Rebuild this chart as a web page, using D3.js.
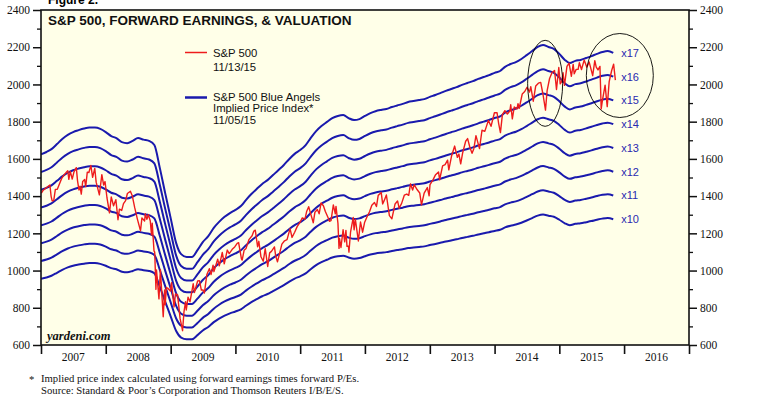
<!DOCTYPE html>
<html>
<head>
<meta charset="utf-8">
<script src="https://cdn.jsdelivr.net/npm/d3@7"></script>
<style>
  body { margin: 0; background: #fff; }
  svg { display: block; }
</style>
</head>
<body>
<svg id="chart"></svg>
<script>
/* data */
// S&P 500 closes
const spx = [
  ["2007-01-03",1416],["2007-01-12",1430],["2007-01-24",1440],["2007-02-07",1450],["2007-02-20",1460],["2007-02-27",1399],
  ["2007-03-05",1374],["2007-03-14",1377],["2007-03-23",1436],["2007-04-03",1437],["2007-04-16",1468],["2007-04-27",1494],
  ["2007-05-09",1512],["2007-05-21",1525],["2007-06-01",1536],["2007-06-07",1490],["2007-06-15",1533],["2007-06-26",1492],
  ["2007-07-06",1530],["2007-07-19",1553],["2007-07-26",1482],["2007-08-03",1433],["2007-08-09",1453],["2007-08-16",1411],
  ["2007-08-24",1479],["2007-09-04",1489],["2007-09-10",1451],["2007-09-19",1529],["2007-09-28",1527],["2007-10-09",1565],
  ["2007-10-19",1501],["2007-10-31",1549],["2007-11-08",1475],["2007-11-26",1407],["2007-12-10",1515],["2007-12-20",1460],
  ["2007-12-28",1478],
  ["2008-01-08",1390],["2008-01-22",1310],["2008-02-01",1395],["2008-02-14",1348],["2008-02-27",1381],["2008-03-10",1273],
  ["2008-03-18",1330],["2008-03-31",1323],["2008-04-10",1360],["2008-04-22",1376],["2008-05-02",1414],["2008-05-19",1426],
  ["2008-05-30",1400],["2008-06-12",1339],["2008-06-27",1278],["2008-07-15",1214],["2008-07-23",1283],["2008-08-07",1266],
  ["2008-08-11",1305],["2008-08-20",1276],["2008-08-28",1300],["2008-09-08",1267],["2008-09-15",1192],["2008-09-19",1255],
  ["2008-09-29",1106],["2008-10-03",1099],["2008-10-10",899],["2008-10-13",1003],["2008-10-27",848],["2008-11-04",1005],
  ["2008-11-20",752],["2008-11-28",896],["2008-12-01",816],["2008-12-08",909],["2008-12-17",904],["2008-12-30",890],
  ["2009-01-06",935],["2009-01-20",805],["2009-01-28",874],["2009-02-09",869],["2009-02-23",743],["2009-03-09",677],
  ["2009-03-17",778],["2009-03-26",833],["2009-03-30",788],["2009-04-09",857],["2009-04-20",832],["2009-05-08",929],
  ["2009-05-15",882],["2009-06-02",944],["2009-06-12",946],["2009-06-23",895],["2009-07-02",896],["2009-07-10",879],
  ["2009-07-24",979],["2009-08-07",1010],["2009-08-17",979],["2009-08-28",1029],["2009-09-02",994],["2009-09-23",1061],
  ["2009-10-02",1025],["2009-10-19",1097],["2009-10-30",1036],["2009-11-16",1110],["2009-11-27",1091],["2009-12-14",1114],
  ["2009-12-28",1127],
  ["2010-01-11",1146],["2010-01-19",1150],["2010-02-04",1063],["2010-02-08",1056],["2010-02-19",1109],["2010-03-02",1119],
  ["2010-03-18",1166],["2010-04-05",1187],["2010-04-15",1212],["2010-04-23",1217],["2010-05-06",1128],["2010-05-13",1157],
  ["2010-05-25",1074],["2010-06-07",1050],["2010-06-18",1118],["2010-07-02",1022],["2010-07-13",1095],["2010-07-23",1103],
  ["2010-08-09",1127],["2010-08-16",1079],["2010-08-26",1047],["2010-09-07",1092],["2010-09-20",1142],["2010-10-05",1160],
  ["2010-10-19",1166],["2010-11-05",1225],["2010-11-16",1178],["2010-12-01",1206],["2010-12-15",1236],["2010-12-30",1257],
  ["2011-01-13",1283],["2011-01-28",1276],["2011-02-07",1319],["2011-02-18",1343],["2011-03-01",1306],["2011-03-16",1257],
  ["2011-03-25",1313],["2011-04-08",1328],["2011-04-18",1305],["2011-04-29",1363],["2011-05-12",1348],["2011-05-23",1317],
  ["2011-06-07",1285],["2011-06-15",1265],["2011-06-24",1268],["2011-07-07",1353],["2011-07-18",1305],["2011-07-22",1345],
  ["2011-08-02",1254],["2011-08-08",1119],["2011-08-11",1172],["2011-08-19",1124],["2011-08-31",1219],["2011-09-09",1154],
  ["2011-09-16",1216],["2011-09-22",1130],["2011-09-30",1131],["2011-10-03",1099],["2011-10-12",1207],["2011-10-27",1285],
  ["2011-11-01",1219],["2011-11-08",1276],["2011-11-25",1159],["2011-12-07",1261],["2011-12-19",1206],["2011-12-30",1258],
  ["2012-01-13",1289],["2012-01-27",1316],["2012-02-09",1351],["2012-02-24",1366],["2012-03-06",1344],["2012-03-16",1404],
  ["2012-04-02",1419],["2012-04-10",1358],["2012-04-19",1377],["2012-05-01",1406],["2012-05-18",1295],["2012-06-01",1278],
  ["2012-06-19",1358],["2012-07-03",1374],["2012-07-12",1335],["2012-07-26",1361],["2012-08-10",1405],["2012-08-24",1411],
  ["2012-09-04",1404],["2012-09-14",1466],["2012-09-26",1433],["2012-10-05",1461],["2012-10-22",1434],["2012-11-05",1417],
  ["2012-11-15",1353],["2012-11-30",1416],["2012-12-18",1446],["2012-12-28",1402],
  ["2013-01-02",1462],["2013-01-18",1486],["2013-02-01",1513],["2013-02-19",1530],["2013-02-25",1488],["2013-03-14",1563],
  ["2013-03-28",1569],["2013-04-11",1593],["2013-04-18",1541],["2013-05-03",1614],["2013-05-21",1669],["2013-06-05",1608],
  ["2013-06-14",1626],["2013-06-24",1573],["2013-07-05",1632],["2013-07-22",1695],["2013-08-02",1709],["2013-08-15",1661],
  ["2013-08-27",1630],["2013-09-06",1655],["2013-09-18",1725],["2013-10-08",1655],["2013-10-22",1754],["2013-11-07",1748],
  ["2013-11-27",1807],["2013-12-12",1775],["2013-12-31",1848],
  ["2014-01-15",1848],["2014-01-24",1790],["2014-02-03",1741],["2014-02-14",1838],["2014-02-28",1859],["2014-03-14",1841],
  ["2014-03-28",1857],["2014-04-02",1891],["2014-04-11",1815],["2014-04-22",1879],["2014-05-07",1868],["2014-05-13",1897],
  ["2014-05-20",1872],["2014-06-06",1949],["2014-06-20",1962],["2014-07-03",1985],["2014-07-17",1959],["2014-07-24",1988],
  ["2014-08-07",1910],["2014-08-21",1992],["2014-09-05",2007],["2014-09-18",2011],["2014-10-01",1946],["2014-10-15",1862],
  ["2014-10-24",1965],["2014-11-07",2032],["2014-11-21",2064],["2014-12-05",2075],["2014-12-16",1973],["2014-12-29",2091],
  ["2015-01-06",2003],["2015-01-16",2019],["2015-01-22",2063],["2015-01-30",1995],["2015-02-13",2097],["2015-02-25",2114],
  ["2015-03-10",2044],["2015-03-20",2108],["2015-03-26",2057],["2015-04-06",2081],["2015-04-17",2081],["2015-04-24",2117],
  ["2015-05-06",2080],["2015-05-21",2131],["2015-06-05",2092],["2015-06-18",2121],["2015-07-08",2047],["2015-07-20",2128],
  ["2015-07-28",2093],["2015-08-07",2078],["2015-08-18",2097],["2015-08-25",1868],["2015-09-01",1914],["2015-09-16",1996],
  ["2015-09-28",1881],["2015-10-09",2015],["2015-10-23",2075],["2015-11-03",2109],["2015-11-13",2023]
];

// forward earnings, monthly from Jan 2007 to Nov 2015
const fwdStart = "2007-01-01";
const fwdEarnings = [
  95.6, 96.3, 97.2, 98.8, 100.4, 101.7, 102.6, 103.2, 103.7, 104.0, 104.0, 103.6,
  102.6, 101.3, 100.7, 99.4, 99.1, 99.8, 100.7, 100.2, 99.8, 98.5, 91.2, 83.3,
  75.4, 67.5, 64.0, 63.1, 63.1, 65.3, 67.8, 69.7, 72.3, 74.2, 75.8, 77.0,
  78.0, 79.2, 81.1, 83.0, 84.6, 86.2, 87.4, 89.0, 90.6, 92.2, 94.1, 95.7,
  96.9, 98.5, 100.7, 102.9, 104.5, 105.8, 107.0, 107.7, 108.0, 107.0, 106.4, 106.7,
  107.7, 108.6, 109.2, 109.6, 109.9, 110.5, 111.0, 111.5, 112.1, 112.4, 112.7, 113.0,
  113.7, 114.3, 114.9, 115.6, 116.2, 116.8, 117.5, 118.1, 118.7, 119.4, 120.0, 120.6,
  121.3, 121.9, 123.2, 124.1, 124.7, 125.7, 126.9, 128.2, 129.5, 130.1, 129.5, 128.9,
  127.3, 125.4, 124.4, 125.1, 125.4, 126.0, 126.6, 127.3, 127.9, 128.2, 127.6
];

// forward P/E multiples for the blue angels
const multiples = [10, 11, 12, 13, 14, 15, 16, 17];

const years = [2007, 2008, 2009, 2010, 2011, 2012, 2013, 2014, 2015, 2016];
const yTicks = [600, 800, 1000, 1200, 1400, 1600, 1800, 2000, 2200, 2400];
const yMinor = [700, 900, 1100, 1300, 1500, 1700, 1900, 2100, 2300];

// circled areas: [centre date, centre value]
const circles = [["2014-10-13", 2006], ["2015-12-08", 2048]];

const title = "S&P 500, FORWARD EARNINGS, & VALUATION";
const note1 = "Implied price index calculated using forward earnings times forward P/Es.";
const note2 = "Source: Standard & Poor\u2019s Corporation and Thomson Reuters I/B/E/S.";


/* chart */
(function() {
  let W = 772, H = 399;
  let margin = {top: 10, right: 83, bottom: 54, left: 41},
    width = W - margin.left - margin.right,
    height = H - margin.top - margin.bottom;

  let parse = d3.timeParse("%Y-%m-%d");
  let blue = "#1a1aad";
  let red = "#ee1c1c";
  let serif = "'Liberation Serif', 'Times New Roman', serif";
  let sans = "'Liberation Sans', Arial, sans-serif";

  let svg = d3.select("#chart")
    .attr("width", W)
    .attr("height", H);

  let g = svg.append("g")
    .attr("transform", "translate(" + margin.left + "," + margin.top + ")");

  let x = d3.scaleTime()
    .domain([new Date(2007, 0, 1), new Date(2017, 0, 1)])
    .range([0, width]);
  let y = d3.scaleLinear()
    .domain([600, 2400])
    .range([height, 0]);

  // plot background
  g.append("rect")
    .attr("width", width)
    .attr("height", height)
    .attr("fill", "#ffffe8");

  g.append("clipPath").attr("id", "clip")
    .append("rect").attr("width", width).attr("height", height);

  let plot = g.append("g").attr("clip-path", "url(#clip)");

  // blue angels
  let t0 = parse(fwdStart);
  let months = fwdEarnings.map((e, i) => d3.timeMonth.offset(t0, i));

  let line = d3.line()
    .x(d => x(d[0]))
    .y(d => y(d[1]))
    .curve(d3.curveMonotoneX);

  multiples.forEach(m => {
    let pts = fwdEarnings.map((e, i) => [months[i], e * m]);
    plot.append("path")
      .attr("d", line(pts))
      .attr("fill", "none")
      .attr("stroke", blue)
      .attr("stroke-width", 2);
  });

  // S&P 500
  let spLine = d3.line()
    .x(d => x(parse(d[0])))
    .y(d => y(d[1]));

  plot.append("path")
    .attr("d", spLine(spx))
    .attr("fill", "none")
    .attr("stroke", red)
    .attr("stroke-width", 1.4)
    .attr("stroke-linejoin", "round");

  // multiple labels at the line ends
  let last = fwdEarnings[fwdEarnings.length - 1];
  let lastX = x(months[months.length - 1]);
  g.selectAll(".mult")
    .data(multiples)
    .enter().append("text")
    .attr("class", "mult")
    .attr("x", lastX + 8)
    .attr("y", d => y(last * d))
    .attr("dy", "0.35em")
    .attr("font-family", sans)
    .attr("font-size", 11)
    .attr("fill", "#2a2ab0")
    .text(d => "x" + d);

  // ellipses
  let rads = [[17.5, 43], [33.5, 42]];
  circles.forEach((c, i) => {
    g.append("ellipse")
      .attr("cx", x(parse(c[0])))
      .attr("cy", y(c[1]))
      .attr("rx", rads[i][0])
      .attr("ry", rads[i][1])
      .attr("fill", "none")
      .attr("stroke", "#000")
      .attr("stroke-width", 0.9);
  });

  // frame
  g.append("rect")
    .attr("width", width)
    .attr("height", height)
    .attr("fill", "none")
    .attr("stroke", "#111")
    .attr("stroke-width", 1.6);

  // add the y Axis, both sides
  let axes = [
    [d3.axisLeft, 0],
    [d3.axisRight, width]
  ];
  axes.forEach(a => {
    let major = g.append("g")
      .attr("transform", "translate(" + a[1] + ",0)")
      .call(a[0](y).tickValues(yTicks).tickSize(8).tickPadding(3).tickFormat(d3.format("d")));
    major.select(".domain").remove();
    major.selectAll("line").attr("stroke", "#111").attr("stroke-width", 1.5);
    major.selectAll("text")
      .attr("font-family", serif)
      .attr("font-size", 11.5)
      .attr("fill", "#111");

    let minor = g.append("g")
      .attr("transform", "translate(" + a[1] + ",0)")
      .call(a[0](y).tickValues(yMinor).tickSize(4).tickFormat(""));
    minor.select(".domain").remove();
    minor.selectAll("line").attr("stroke", "#111").attr("stroke-width", 1.3);
  });

  // add the x Axis
  let xa = g.append("g")
    .attr("transform", "translate(0," + height + ")")
    .call(d3.axisBottom(x).ticks(d3.timeYear.every(1)).tickSize(9).tickFormat(""));
  xa.select(".domain").remove();
  xa.selectAll("line").attr("stroke", "#111").attr("stroke-width", 1.6);

  g.selectAll(".year")
    .data(years)
    .enter().append("text")
    .attr("class", "year")
    .attr("x", d => (x(new Date(d, 0, 1)) + x(new Date(d + 1, 0, 1))) / 2)
    .attr("y", height + 16)
    .attr("text-anchor", "middle")
    .attr("font-family", serif)
    .attr("font-size", 11.5)
    .attr("fill", "#111")
    .text(d => d);

  // title
  svg.append("text")
    .attr("x", 48).attr("y", 4)
    .attr("font-family", sans)
    .attr("font-weight", "bold")
    .attr("font-size", 12)
    .text("Figure 2.");

  svg.append("text")
    .attr("x", 48).attr("y", 24.5)
    .attr("font-family", sans)
    .attr("font-weight", "bold")
    .attr("font-size", 13.5)
    .attr("fill", "#111")
    .text(title);

  // legend
  let legend = svg.append("g").attr("font-family", sans).attr("font-size", 11.3).attr("fill", "#111");
  legend.append("line")
    .attr("x1", 185).attr("x2", 207).attr("y1", 52.5).attr("y2", 52.5)
    .attr("stroke", red).attr("stroke-width", 1.5);
  legend.append("line")
    .attr("x1", 185).attr("x2", 207).attr("y1", 97.5).attr("y2", 97.5)
    .attr("stroke", blue).attr("stroke-width", 2.5);
  let lines = [
    ["S&P 500", 57], ["11/13/15", 70.5],
    ["S&P 500 Blue Angels", 101], ["Implied Price Index*", 112.3], ["11/05/15", 123.6]
  ];
  legend.selectAll("text")
    .data(lines)
    .enter().append("text")
    .attr("x", 213)
    .attr("y", d => d[1])
    .text(d => d[0]);

  // source tag
  svg.append("text")
    .attr("x", 47).attr("y", 339.5)
    .attr("font-family", serif)
    .attr("font-weight", "bold")
    .attr("font-style", "italic")
    .attr("font-size", 12.5)
    .attr("fill", "#111")
    .text("yardeni.com");

  // footnotes
  let foot = svg.append("g").attr("font-family", serif).attr("font-size", 10.7).attr("fill", "#111");
  foot.append("text").attr("x", 29).attr("y", 383).text("*");
  foot.append("text").attr("x", 41).attr("y", 382).text(note1);
  foot.append("text").attr("x", 41).attr("y", 393.5).text(note2);
})();
</script>
</body>
</html>
